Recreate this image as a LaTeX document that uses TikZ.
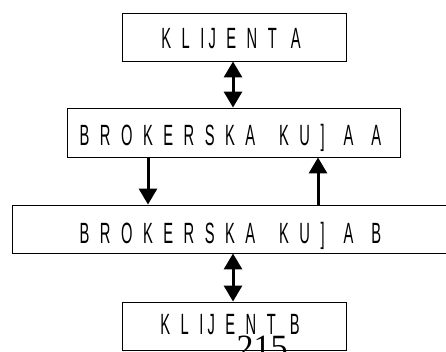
\documentclass[tikz,border=0pt]{standalone}
\usepackage{fontspec}
\usetikzlibrary{arrows.meta,calc}
\newfontfamily\plainsans{Liberation Sans}
\newfontfamily\pageserif{Liberation Serif}
% natural 10pt Liberation Sans, scaled to cap height 21pt and narrow letters
\newcommand\lbltext[1]{\scalebox{1.47}[2.93]{\plainsans\fontsize{10pt}{12pt}\selectfont\spaceskip 7.14pt\relax #1}}
\tikzset{
  boxshape/.style={draw=black, line width=0.9pt, rectangle, inner sep=0pt, fill=none},
  lbl/.style={anchor=base, inner sep=0pt},
  arrline/.style={line width=3pt, -{Triangle[width=18pt,length=16pt]}},
  dblline/.style={line width=3pt, {Triangle[width=18pt,length=16pt]}-{Triangle[width=18pt,length=16pt]}},
}
\begin{document}
\begin{tikzpicture}[x=1pt,y=-1pt]
\useasboundingbox (0,0) rectangle (446,351);
\clip (0,0) rectangle (446,351);
\fill[white] (0,0) rectangle (446,351);
% boxes
\node[boxshape, minimum width=224pt, minimum height=48pt] (ka) at (234,37) {};
\node[boxshape, minimum width=333pt, minimum height=49pt] (ba) at (233.5,132.5) {};
\node[boxshape, minimum width=448pt, minimum height=48pt] (bb) at (236,229) {};
\node[boxshape, minimum width=224pt, minimum height=48pt] (kb) at (234,326) {};
% labels
\node[lbl] (tka) at (231,48) {\lbltext{K L I \hspace{-4.4pt}J E N T \hspace{2.4pt}A}};
\node[lbl] (tba) at (230.5,145) {\lbltext{B R O K E R S K A \hspace{9.2pt}K U ] \hspace{5.8pt}A \hspace{5.1pt}A}};
\node[lbl] (tbb) at (230.5,243) {\lbltext{B R O K E R S K A \hspace{9.2pt}K U ] \hspace{5.8pt}A \hspace{5.1pt}B}};
\node[lbl] (tkb) at (230,334) {\lbltext{K L I \hspace{-4.4pt}J E N T \hspace{2.4pt}B}};
% connectors
\draw[dblline] ([xshift=-1pt]ka.south) -- ([xshift=-0.5pt]ba.north);
\draw[arrline] ([xshift=-85.5pt]ba.south) -- ([xshift=-85.5pt]ba.south |- bb.north);
\draw[arrline] ([xshift=84.5pt]ba.south |- bb.north) -- ([xshift=84.5pt]ba.south);
\draw[dblline] ([xshift=-1pt]kb.north |- bb.south) -- ([xshift=-1pt]kb.north);
% page number
\node[anchor=base, inner sep=0pt, font=\pageserif\fontsize{34pt}{34pt}\selectfont] (pg) at (262,358) {215};
\end{tikzpicture}
\end{document}
